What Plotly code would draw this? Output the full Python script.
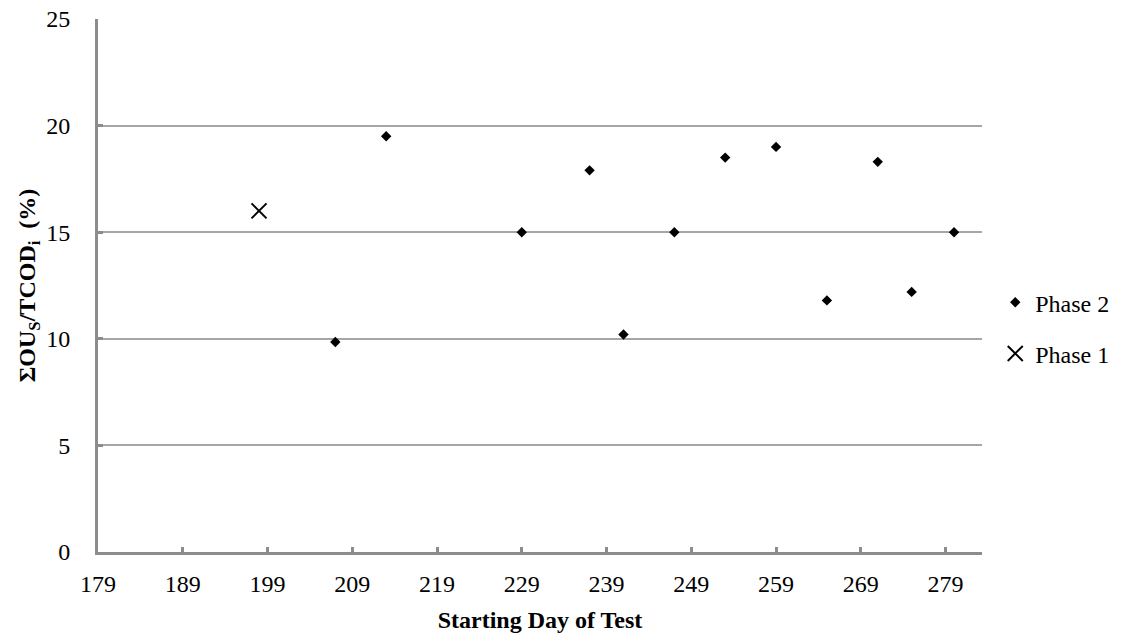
import plotly.graph_objects as go

# Starting day of each test and the measured ratio (%)
phase2_days = [207, 213, 229, 237, 241, 247, 253, 259, 265, 271, 275, 280]
phase2_ratio = [9.85, 19.5, 15.0, 17.9, 10.2, 15.0, 18.5, 19.0, 11.8, 18.3, 12.2, 15.0]

phase1_days = [198]
phase1_ratio = [16.0]

x_ticks = list(range(179, 280, 10))
y_ticks = [0, 5, 10, 15, 20, 25]

FONT = "Liberation Serif"
AXIS_GRAY = "#8c8c8c"
GRID_GRAY = "#a6a6a6"

fig = go.Figure()

fig.add_trace(go.Scatter(
    x=phase2_days, y=phase2_ratio, mode="markers", name="Phase 2",
    legendgroup="p2",
    marker=dict(symbol="diamond", size=8, color="black"),
))
fig.add_trace(go.Scatter(
    x=phase1_days, y=phase1_ratio, mode="markers", name="Phase 1",
    legendgroup="p1",
    marker=dict(symbol="x-thin-open", size=15, color="black",
                line=dict(width=2, color="black")),
))

fig.update_layout(
    width=1126, height=641,
    margin=dict(l=98, r=144, t=19, b=89, autoexpand=False),
    paper_bgcolor="white", plot_bgcolor="white",
    font=dict(family=FONT, size=24, color="black"),
    showlegend=True,
    legend=dict(x=1.015, y=0.42, xanchor="left", yanchor="middle",
                tracegroupgap=17, font=dict(family=FONT, size=24),
                itemwidth=30, bgcolor="rgba(0,0,0,0)"),
)

fig.update_xaxes(
    range=[179, 283.3], tickvals=x_ticks, ticktext=[str(v) for v in x_ticks],
    showgrid=False, zeroline=False,
    showline=True, linecolor=AXIS_GRAY, linewidth=3,
    ticks="inside", ticklen=5, tickwidth=3, tickcolor=AXIS_GRAY,
    ticklabelstandoff=8,
    tickfont=dict(family=FONT, size=24),
    title=dict(text="<b>Starting Day of Test</b>",
               font=dict(family=FONT, size=24), standoff=16),
)
fig.update_yaxes(
    range=[0, 25], tickvals=y_ticks,
    showgrid=True, gridcolor=GRID_GRAY, gridwidth=1.5, zeroline=False,
    showline=True, linecolor=AXIS_GRAY, linewidth=3,
    ticks="inside", ticklen=5, tickwidth=3, tickcolor=AXIS_GRAY,
    ticklabelstandoff=20,
    tickfont=dict(family=FONT, size=24),
    title=dict(text="<b>ΣOU<sub>S</sub>/TCOD<sub>i</sub>  (%)</b>",
               font=dict(family=FONT, size=24), standoff=4),
)

fig.write_html("out.html")
